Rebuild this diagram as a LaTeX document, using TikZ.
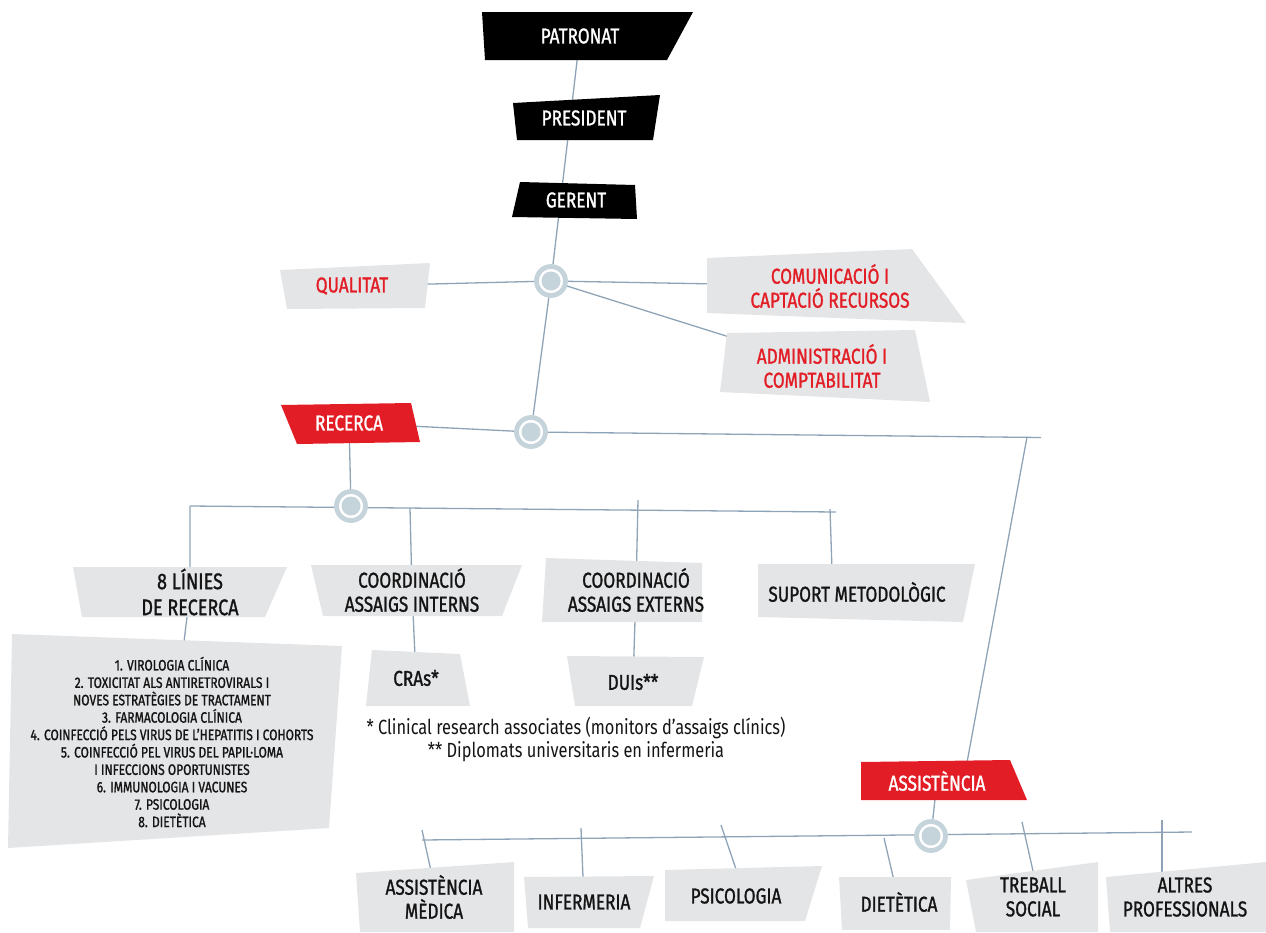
\documentclass[tikz,border=0pt]{standalone}
\usepackage{fontspec}
\setmainfont{Fira Sans}[FakeStretch=0.8]
\newfontfamily\lblfont{Fira Sans}[FakeStretch=0.8, FakeBold=1.2]
\definecolor{boxgray}{RGB}{228,229,231}
\definecolor{orgred}{RGB}{226,29,37}
\definecolor{linec}{RGB}{143,163,183}
\definecolor{hubc}{RGB}{197,211,219}
\definecolor{inkc}{RGB}{20,20,20}
\pgfdeclarelayer{bg}
\pgfsetlayers{bg,main}
\tikzset{
  lbl/.style={align=center, inner sep=1pt, text=inkc, font=\lblfont\fontsize{21.5}{24}\selectfont},
  wlbl/.style={lbl, text=white},
  rlbl/.style={lbl, text=orgred},
  link/.style={draw=linec, line width=1.3pt},
  hub/.style={circle, draw=hubc, line width=4.8pt, fill=white, minimum size=29pt, inner sep=0pt}
}
\begin{document}
\begin{tikzpicture}[x=1pt, y=-1pt]
    \useasboundingbox (0,0) rectangle (1266,932);
    % top boxes
    \fill[black] (482,12) -- (693,12) -- (667,60) -- (485,60) -- cycle;
    \node[wlbl] (patronat) at (580,36) {PATRONAT};
    \fill[black] (513,103) -- (660,95) -- (653,140) -- (517,140) -- cycle;
    \node[wlbl] (president) at (584,118) {PRESIDENT};
    \fill[black] (520,182) -- (635,185) -- (637,219) -- (512,217) -- cycle;
    \node[wlbl] (gerent) at (576,200) {GERENT};
    % staff
    \fill[boxgray] (280,270) -- (430,263) -- (425,308) -- (287,309) -- cycle;
    \node[rlbl] (qualitat) at (352,286) {QUALITAT};
    \fill[boxgray] (707,258) -- (912,249) -- (966,323) -- (707,313) -- cycle;
    \node[rlbl] (comunic) at (830,286) {COMUNICACIÓ I\\CAPTACIÓ RECURSOS};
    \fill[boxgray] (727,333) -- (915,330) -- (930,402) -- (720,392) -- cycle;
    \node[rlbl] (admin) at (822,366) {ADMINISTRACIÓ I\\COMPTABILITAT};
    \node[hub] (hubA) at (551,281) {};
    \fill[hubc] (hubA) circle (9.5);
    \node[hub] (hubB) at (531,432) {};
    \fill[hubc] (hubB) circle (9.5);
    % recerca
    \fill[orgred] (281,405) -- (411,403) -- (420,442) -- (297,444) -- cycle;
    \node[wlbl] (recerca) at (349,423) {RECERCA};
    \node[hub] (hubC) at (351,506) {};
    \fill[hubc] (hubC) circle (9.5);
    \fill[boxgray] (73,567) -- (287,567) -- (265,617) -- (82,617) -- cycle;
    \node[lbl, font=\lblfont\fontsize{22.5}{26}\selectfont] (linies) at (190,592) {8 LÍNIES\\DE RECERCA};
    \fill[boxgray] (12,634) -- (342,646) -- (329,828) -- (8,848) -- cycle;
    \node[lbl, font=\lblfont\fontsize{15}{17.4}\selectfont] (llista) at (172,742) {1. VIROLOGIA CLÍNICA\\
      2. TOXICITAT ALS ANTIRETROVIRALS I\\NOVES ESTRATÈGIES DE TRACTAMENT\\
      3. FARMACOLOGIA CLÍNICA\\4. COINFECCIÓ PELS VIRUS DE L’HEPATITIS I COHORTS\\
      5. COINFECCIÓ PEL VIRUS DEL PAPIL·LOMA\\I INFECCIONS OPORTUNISTES\\
      6. IMMUNOLOGIA I VACUNES\\7. PSICOLOGIA\\8. DIETÈTICA};
    \fill[boxgray] (311,565) -- (522,565) -- (502,616) -- (323,616) -- cycle;
    \node[lbl] (interns) at (412,590) {COORDINACIÓ\\ASSAIGS INTERNS};
    \fill[boxgray] (546,558) -- (702,563) -- (702,622) -- (542,622) -- cycle;
    \node[lbl] (externs) at (636,590) {COORDINACIÓ\\ASSAIGS EXTERNS};
    \fill[boxgray] (758,564) -- (975,564) -- (963,622) -- (758,617) -- cycle;
    \node[lbl] (suport) at (857,592) {SUPORT METODOLÒGIC};
    \fill[boxgray] (372,650) -- (460,654) -- (470,706) -- (366,706) -- cycle;
    \node[lbl] (cras) at (416,678) {CRAs*};
    \fill[boxgray] (567,656) -- (704,657) -- (692,706) -- (575,706) -- cycle;
    \node[lbl] (duis) at (633,682) {DUIs**};
    \node[align=center, inner sep=1pt, text=inkc, font=\fontsize{20.5}{23}\selectfont] (notes) at (576,740) {* Clinical research associates (monitors d’assaigs clínics)\\** Diplomats universitaris en infermeria};
    % assistencia
    \fill[orgred] (861,762) -- (1010,760) -- (1027,800) -- (861,800) -- cycle;
    \node[wlbl] (assist) at (937,781) {ASSISTÈNCIA};
    \node[hub] (hubD) at (931,836) {};
    \fill[hubc] (hubD) circle (9.5);
    \fill[boxgray] (356,873) -- (514,862) -- (514,932) -- (360,932) -- cycle;
    \node[lbl] (medica) at (434,897) {ASSISTÈNCIA\\MÈDICA};
    \fill[boxgray] (524,877) -- (654,876) -- (640,928) -- (528,928) -- cycle;
    \node[lbl] (inferm) at (584,902) {INFERMERIA};
    \fill[boxgray] (665,870) -- (822,866) -- (805,921) -- (665,921) -- cycle;
    \node[lbl] (psico) at (736,896) {PSICOLOGIA};
    \fill[boxgray] (839,877) -- (951,877) -- (950,930) -- (842,930) -- cycle;
    \node[lbl] (dietet) at (899,902) {DIETÈTICA};
    \fill[boxgray] (966,880) -- (1098,862) -- (1098,932) -- (976,932) -- cycle;
    \node[lbl] (treball) at (1033,897) {TREBALL\\SOCIAL};
    \fill[boxgray] (1106,877) -- (1266,862) -- (1266,932) -- (1110,932) -- cycle;
    \node[lbl] (altres) at (1185,897) {ALTRES\\PROFESSIONALS};
    % line ends
    \coordinate (recTurn) at (1027,437);
    \coordinate (recEnd) at (1041,437.5);
    \coordinate (assTop) at (966,768);
    \coordinate (barL) at (190,506);
    \coordinate (barR) at (836,512);
    \coordinate (tInt) at (410,508);
    \coordinate (tExt) at (638,500);
    \coordinate (tSup) at (830,509);
    \coordinate (pSup) at (832,570);
    \coordinate (barL2) at (422,840);
    \coordinate (barR2) at (1192,832);
    \coordinate (tMed) at (422,830);
    \coordinate (pMed) at (433,880);
    \coordinate (tInf) at (581,828);
    \coordinate (tPsi) at (721,825);
    \coordinate (pPsi) at (738,875);
    \coordinate (tDie) at (884,838);
    \coordinate (tTre) at (1022,822);
    \coordinate (pTre) at (1035,880);
    \coordinate (tAlt) at (1162,820);
    \coordinate (pAlt) at (1162,880);
    \begin{pgfonlayer}{bg}
    \draw[link] (patronat) -- (hubA) -- (hubB);
    \draw[link] (qualitat) -- (hubA) -- (comunic);
    \draw[link] (hubA) -- (admin);
    \draw[link] (recerca) -- (hubB) -- (recEnd);
    \draw[link] (recTurn) -- (assTop);
    \draw[link] (recerca) -- (hubC);
    \draw[link] (barL) -- (barR);
    \draw[link] (barL) -- (linies) -- (llista);
    \draw[link] (tInt) -- (interns) -- (cras);
    \draw[link] (tExt) -- (externs) -- (duis);
    \draw[link] (tSup) -- (pSup);
    \draw[link] (assist) -- (hubD);
    \draw[link] (barL2) -- (barR2);
    \draw[link] (tMed) -- (pMed);
    \draw[link] (tInf) -- (inferm);
    \draw[link] (tPsi) -- (pPsi);
    \draw[link] (tDie) -- (dietet);
    \draw[link] (tTre) -- (pTre);
    \draw[link] (tAlt) -- (pAlt);
    \end{pgfonlayer}
\end{tikzpicture}
\end{document}
